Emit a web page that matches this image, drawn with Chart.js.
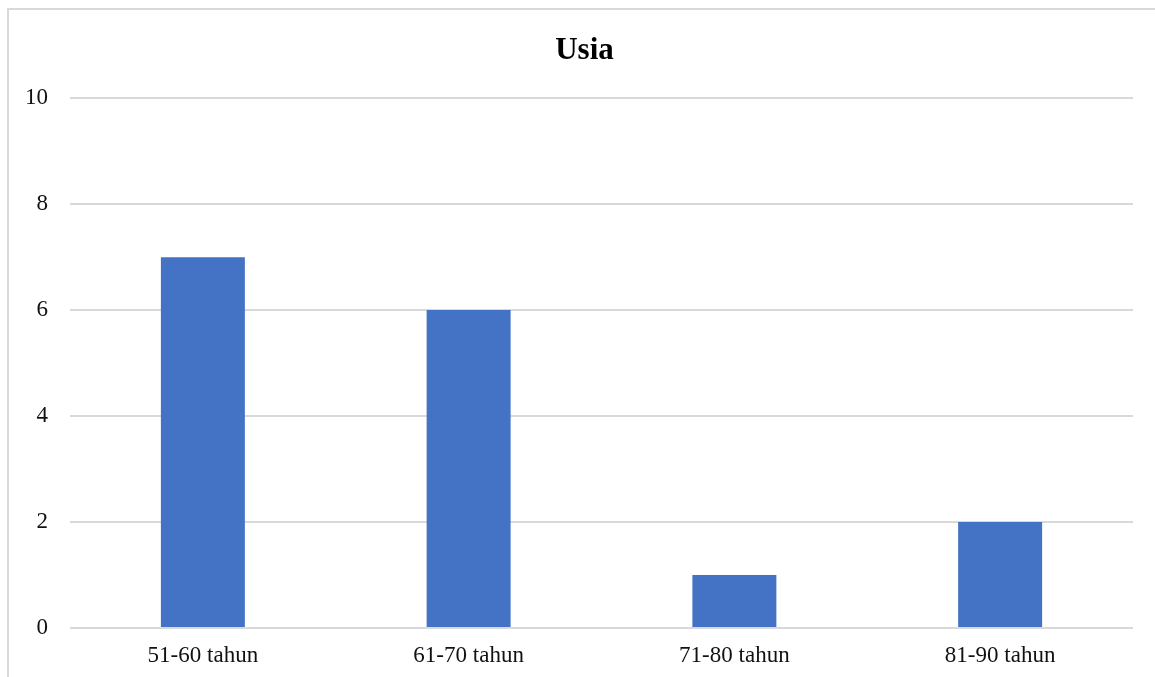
<!DOCTYPE html>
<html>
<head>
<meta charset="utf-8">
<script src="https://cdn.jsdelivr.net/npm/chart.js@4/dist/chart.umd.min.js"></script>
<style>
  html, body { margin: 0; padding: 0; background: #fff; overflow: hidden; }
  #wrap { position: relative; width: 1155px; height: 677px; }
  #frame { position: absolute; left: 7px; top: 8px; width: 1200px; height: 700px;
           border: 2px solid #d9d9d9; box-sizing: border-box; }
  canvas { position: absolute; left: 0; top: 0; }
</style>
</head>
<body>
<div id="wrap">
  <div id="frame"></div>
  <canvas id="chart" width="1155" height="677"></canvas>
</div>
<script>
// Age groups and respondent counts
const categories = ['51-60 tahun', '61-70 tahun', '71-80 tahun', '81-90 tahun'];
const counts = [7, 6, 1, 2];
const yTicks = [0, 2, 4, 6, 8, 10];

const serif = '"Liberation Serif", "Times New Roman", serif';

// Center the title over the plot region rather than the whole canvas
const titleShift = {
  id: 'titleShift',
  afterLayout(chart) {
    if (chart.titleBlock) {
      chart.titleBlock.left = 36;
      chart.titleBlock.width = chart.titleBlock.right - chart.titleBlock.left;
    }
  }
};

new Chart(document.getElementById('chart'), {
  type: 'bar',
  data: {
    labels: categories,
    datasets: [{
      label: 'Usia',
      data: counts,
      backgroundColor: '#4472C4',
      borderWidth: 0,
      categoryPercentage: 1,
      barPercentage: 0.316
    }]
  },
  plugins: [titleShift],
  options: {
    responsive: false,
    animation: false,
    layout: { padding: { left: 0, right: 22, top: 0, bottom: 9 } },
    plugins: {
      legend: { display: false },
      tooltip: { enabled: false },
      title: {
        display: true,
        text: 'Usia',
        color: '#000',
        font: { family: serif, size: 31, weight: 'bold' },
        padding: { top: 32, bottom: 29 }
      }
    },
    scales: {
      x: {
        afterFit: (scale) => { scale.height = 40; },
        grid: { display: false, drawTicks: false },
        border: { display: false },
        ticks: { color: '#111', font: { family: serif, size: 23 }, padding: 14 }
      },
      y: {
        min: yTicks[0],
        max: yTicks[yTicks.length - 1],
        afterBuildTicks: (scale) => { scale.ticks = yTicks.map(v => ({ value: v })); },
        afterFit: (scale) => { scale.width = 70; },
        grid: { color: '#d9d9d9', lineWidth: 2, drawTicks: false },
        border: { display: false },
        ticks: { color: '#111', font: { family: serif, size: 23 }, padding: 22 }
      }
    }
  }
});
</script>
</body>
</html>
